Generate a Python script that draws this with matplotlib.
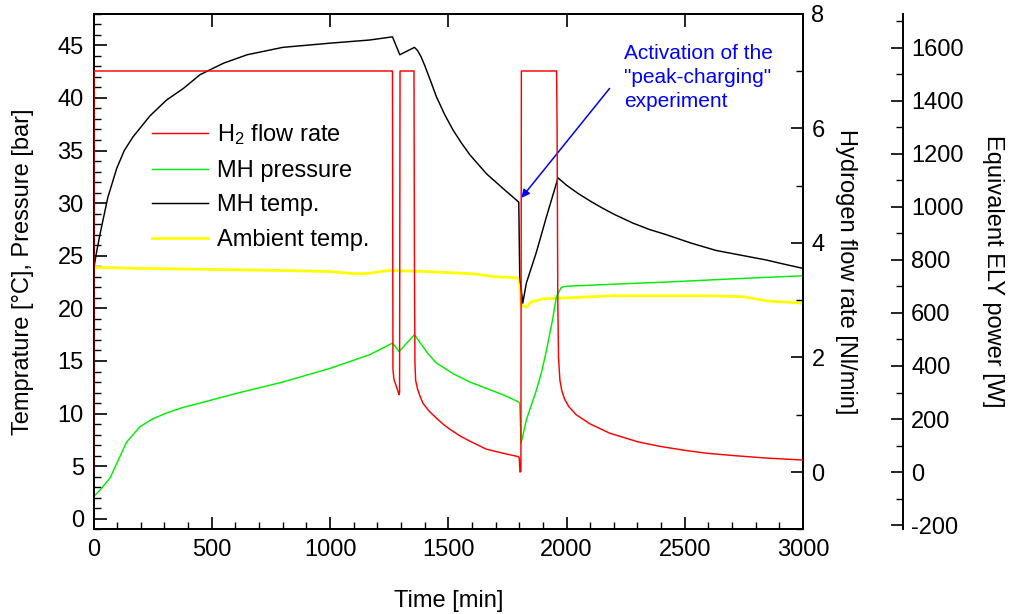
import matplotlib
matplotlib.use("Agg")
import matplotlib.pyplot as plt
from matplotlib.ticker import MultipleLocator

plt.rcParams['font.family'] = ['Liberation Sans', 'DejaVu Sans']
plt.rcParams['mathtext.fontset'] = 'custom'
plt.rcParams['mathtext.rm'] = 'Liberation Sans'
plt.rcParams['axes.unicode_minus'] = False

# ---- data ----
flow_t = [0, 2, 1262, 1264, 1266, 1270, 1280, 1292, 1294, 1296, 1353, 1355, 1357,
          1359, 1362, 1370, 1380, 1393, 1420, 1450, 1480, 1506, 1550, 1591, 1661,
          1731, 1795, 1800, 1803, 1807, 1809, 1958, 1960, 1963, 1966, 1972, 1980,
          1992, 2010, 2041, 2100, 2182, 2300, 2393, 2500, 2591, 2700, 2844, 3000]
flow_v = [0.0, 7.0, 7.0, 7.0, 1.8, 1.62, 1.5, 1.35, 1.4, 7.0, 7.0, 7.0, 3.5,
          1.9, 1.6, 1.45, 1.33, 1.2, 1.06, 0.94, 0.83, 0.75, 0.63, 0.54, 0.40,
          0.33, 0.27, 0.25, 0.0, 0.01, 7.0, 7.0, 6.0, 3.0, 2.0, 1.6, 1.42,
          1.27, 1.14, 1.0, 0.84, 0.68, 0.53, 0.45, 0.38, 0.33, 0.29, 0.245, 0.21]

pres_t = [0, 30, 70, 105, 140, 196, 250, 309, 380, 450, 600, 800, 1000, 1168, 1264,
          1292, 1357, 1379, 1414, 1450, 1520, 1591, 1661, 1731, 1798, 1802, 1808,
          1830, 1872, 1895, 1915, 1940, 1957, 1978, 2000, 2200, 2422, 2700, 3000]
pres_v = [2.1, 2.8, 3.9, 5.6, 7.3, 8.75, 9.5, 10.06, 10.6, 11.0, 11.9, 13.0, 14.3,
          15.6, 16.7, 15.9, 17.5, 16.8, 15.7, 14.8, 13.8, 13.0, 12.4, 11.8, 11.1,
          11.0, 7.2, 9.4, 12.2, 14.0, 16.0, 18.8, 21.1, 22.0, 22.1, 22.3, 22.5,
          22.8, 23.1]

temp_t = [0, 10, 27, 60, 98, 130, 167, 239, 309, 380, 450, 550, 650, 800, 1000,
          1168, 1264, 1295, 1357, 1370, 1385, 1400, 1422, 1450, 1485, 1520, 1556,
          1591, 1661, 1731, 1798, 1802, 1815, 1830, 1872, 1915, 1964, 2000, 2050,
          2100, 2150, 2200, 2281, 2350, 2422, 2527, 2633, 2750, 2844, 2920, 3000]
temp_v = [23.6, 25.0, 27.0, 30.5, 33.3, 35.0, 36.3, 38.3, 39.8, 40.9, 42.2, 43.3,
          44.1, 44.8, 45.2, 45.5, 45.8, 44.1, 44.8, 44.5, 43.9, 43.1, 41.8, 40.1,
          38.4, 36.95, 35.7, 34.6, 32.8, 31.4, 30.1, 23.0, 20.5, 22.4, 25.3, 28.7,
          32.4, 31.7, 30.9, 30.2, 29.55, 28.95, 28.1, 27.5, 27.0, 26.2, 25.5, 25.0,
          24.6, 24.2, 23.8]

amb_t = [0, 200, 500, 800, 1000, 1100, 1150, 1250, 1400, 1600, 1700, 1800, 1806,
         1812, 1830, 1850, 1900, 2000, 2200, 2400, 2600, 2750, 2850, 3000]
amb_v = [23.9, 23.8, 23.7, 23.6, 23.5, 23.3, 23.3, 23.6, 23.5, 23.3, 23.0, 22.9,
         20.6, 20.3, 20.1, 20.6, 20.9, 21.0, 21.2, 21.2, 21.2, 21.1, 20.7, 20.5]

labels = ['H$\\mathregular{_2}$ flow rate', 'MH pressure', 'MH temp.', 'Ambient temp.']
note = 'Activation of the\n"peak-charging"\nexperiment'
W_PER_NLMIN = 216.0

FS = 17

# ---- figure ----
fig = plt.figure(figsize=(10.1, 6.14), dpi=100)
ax = fig.add_axes([0.0926, 0.1378, 0.7025, 0.8399])
ax2 = ax.twinx()
ax3 = ax.twinx()

l4, = ax.plot(amb_t, amb_v, color='#ffff00', lw=2.0, zorder=2)
l2, = ax.plot(pres_t, pres_v, color='#00ee00', lw=1.05, zorder=3)
l3, = ax.plot(temp_t, temp_v, color='black', lw=1.05, zorder=4)
l1, = ax2.plot(flow_t, flow_v, color='#ff0000', lw=1.05, zorder=5)

ax.set_xlim(0, 3000)
ax.set_ylim(-1, 48)
ax2.set_ylim(-1, 8)
ax3.set_ylim(-1 * W_PER_NLMIN, 8 * W_PER_NLMIN)

for s in ax.spines.values():
    s.set_linewidth(1.4)
for s in ax2.spines.values():
    s.set_linewidth(1.4)
for k, s in ax3.spines.items():
    s.set_visible(k == 'right')
ax3.spines['right'].set_position(('axes', 1.1405))
ax3.spines['right'].set_linewidth(1.4)

ax.xaxis.set_major_locator(MultipleLocator(500))
ax.xaxis.set_minor_locator(MultipleLocator(100))
ax.yaxis.set_major_locator(MultipleLocator(5))
ax.yaxis.set_minor_locator(MultipleLocator(1))
ax2.yaxis.set_major_locator(MultipleLocator(2))
ax2.yaxis.set_minor_locator(MultipleLocator(1))
ax3.yaxis.set_major_locator(MultipleLocator(200))
ax3.yaxis.set_minor_locator(MultipleLocator(100))

ax.tick_params(which='major', direction='in', length=9, width=1.2, labelsize=FS,
               top=True, right=False, pad=7)
ax.tick_params(which='minor', direction='in', length=5, width=1.0, top=False, right=False)
ax2.tick_params(which='major', direction='in', length=9, width=1.2, labelsize=FS, pad=6)
ax2.tick_params(which='minor', direction='in', length=5, width=1.0)
ax3.tick_params(which='major', direction='in', length=9, width=1.2, labelsize=FS, pad=6)
ax3.tick_params(which='minor', direction='in', length=5, width=1.0)

ax.set_xlabel('Time [min]', fontsize=FS, labelpad=21)
ax.set_ylabel('Temprature [°C], Pressure [bar]', fontsize=FS, labelpad=17)
ax2.set_ylabel('Hydrogen flow rate [Nl/min]', fontsize=FS, rotation=270, labelpad=23)
ax3.set_ylabel('Equivalent ELY power [W]', fontsize=FS, rotation=270, labelpad=29)

ax.legend([l1, l2, l3, l4], labels, loc='upper left', bbox_to_anchor=(0.069, 0.8075),
          frameon=False, fontsize=FS, handlelength=2.37, handletextpad=0.38,
          labelspacing=0.53, borderaxespad=0)

ax.annotate('', xy=(1809, 30.5), xytext=(2182, 40.9),
            arrowprops=dict(arrowstyle='-|>', color='blue', lw=1.1,
                            mutation_scale=12, shrinkA=0, shrinkB=0))
ax.text(2245, 45.15, note, color='blue', fontsize=15, va='top', ha='left',
        linespacing=1.36)

fig.savefig('out.png', dpi=100)
